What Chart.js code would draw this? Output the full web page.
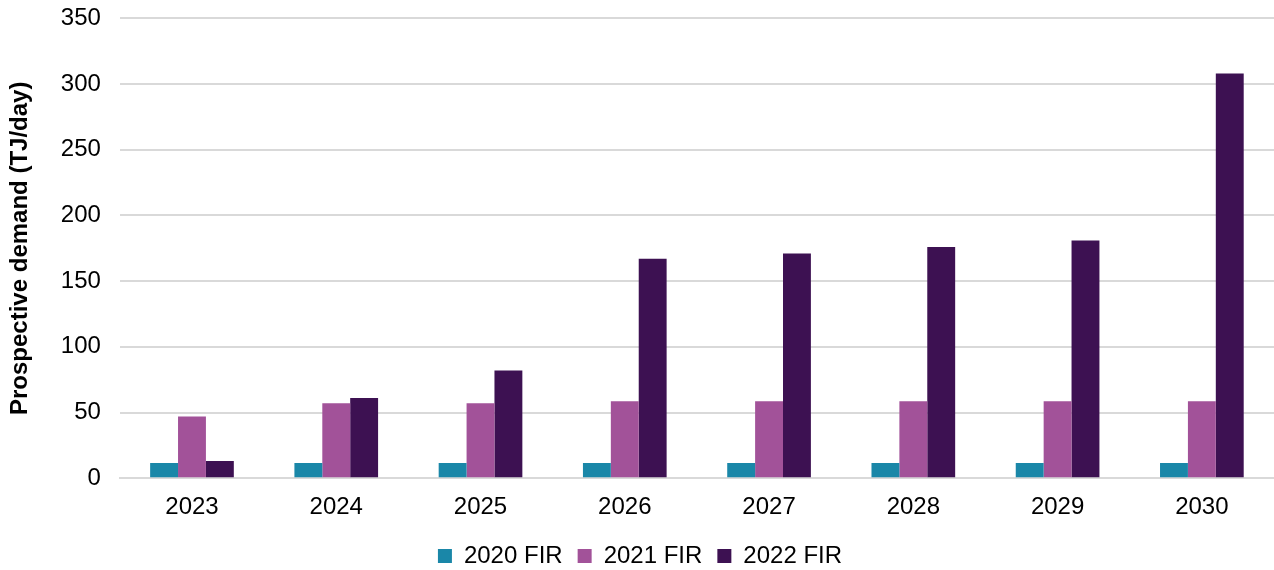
<!DOCTYPE html>
<html lang="en">
<head>
    <meta charset="UTF-8">
    <title>Prospective demand</title>
    <script src="https://cdn.jsdelivr.net/npm/chart.js"></script>
    <style>
        body {
            margin: 0;
            background-color: #ffffff;
        }

        #chart-box {
            width: 1274px;
            height: 570px;
        }
    </style>
</head>
<body>
    <div id="chart-box">
        <canvas id="demand-chart"></canvas>
    </div>

    <script>
        // values
        const years = ['2023', '2024', '2025', '2026', '2027', '2028', '2029', '2030'];
        const fir2020 = [11.5, 11.5, 11.5, 11.5, 11.5, 11.5, 11.5, 11.5];
        const fir2021 = [47, 57, 57, 58.5, 58.5, 58.5, 58.5, 58.5];
        const fir2022 = [13, 61, 82, 167, 171, 176, 181, 308];
        const yTicks = [0, 50, 100, 150, 200, 250, 300, 350];

        const ctx = document.getElementById('demand-chart').getContext('2d');
        new Chart(ctx, {
            type: 'bar',
            data: {
                labels: years,
                datasets: [
                    { label: '2020 FIR', data: fir2020, backgroundColor: '#1a87a8' },
                    { label: '2021 FIR', data: fir2021, backgroundColor: '#a25299' },
                    { label: '2022 FIR', data: fir2022, backgroundColor: '#3d1152' },
                ],
            },
            options: {
                responsive: true,
                maintainAspectRatio: false,
                animation: false,
                layout: {
                    padding: { top: 1, right: 0, left: 6, bottom: -8 },
                },
                datasets: {
                    bar: {
                        barPercentage: 1,
                        categoryPercentage: 0.58,
                        borderWidth: 0,
                    },
                },
                plugins: {
                    legend: {
                        position: 'bottom',
                        labels: {
                            boxWidth: 14,
                            boxHeight: 14,
                            padding: 15,
                            color: '#000000',
                            font: { family: 'Liberation Sans, Arial', size: 24 },
                        },
                    },
                    tooltip: { enabled: false },
                },
                scales: {
                    x: {
                        grid: { display: false },
                        border: { display: true, color: '#d9d9d9', width: 2 },
                        ticks: {
                            color: '#000000',
                            padding: 7,
                            font: { family: 'Liberation Sans, Arial', size: 24 },
                        },
                    },
                    y: {
                        min: 0,
                        max: 350,
                        afterBuildTicks: (axis) => {
                            axis.ticks = yTicks.map(v => ({ value: v }));
                        },
                        // invisible tick marks give the gap between labels and plot
                        grid: {
                            color: '#d9d9d9',
                            lineWidth: 2,
                            drawTicks: true,
                            tickLength: 15,
                            tickColor: 'rgba(0,0,0,0)',
                        },
                        border: { display: false },
                        ticks: {
                            color: '#000000',
                            padding: 4,
                            font: { family: 'Liberation Sans, Arial', size: 24 },
                        },
                        title: {
                            display: true,
                            text: 'Prospective demand (TJ/day)',
                            color: '#000000',
                            padding: { top: 0, bottom: 22 },
                            font: { family: 'Liberation Sans, Arial', size: 24, weight: 'bold' },
                        },
                    },
                },
            },
        });
    </script>
</body>
</html>
